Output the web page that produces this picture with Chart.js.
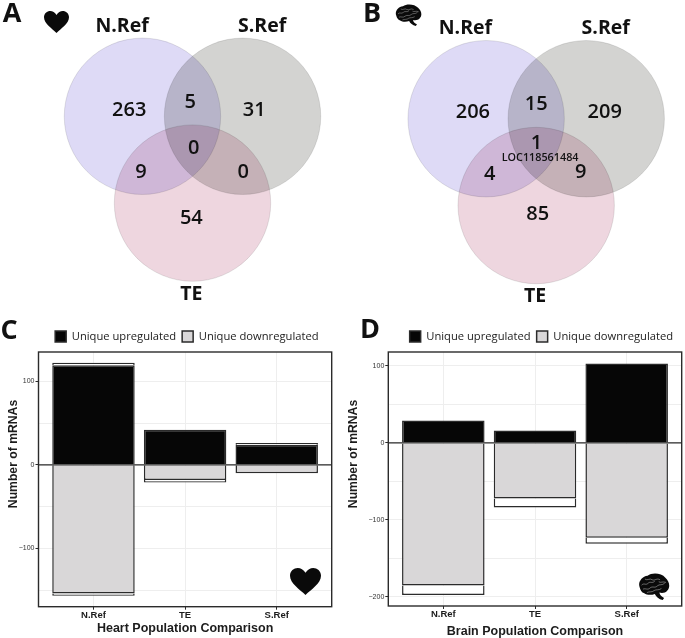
<!DOCTYPE html>
<html>
<head>
<meta charset="utf-8">
<script src="https://cdn.jsdelivr.net/npm/chart.js@4/dist/chart.umd.js"></script>
<style>
  html, body { margin: 0; padding: 0; background: #fff; }
  #page { position: relative; width: 685px; height: 638px; overflow: hidden; }
  canvas, svg.icon { position: absolute; }
</style>
</head>
<body>
<div id="page">
  <canvas id="vennHeart" width="345" height="310" style="left:0;top:0"></canvas>
  <canvas id="vennBrain" width="340" height="310" style="left:345px;top:0"></canvas>
  <canvas id="barHeart" width="345" height="322" style="left:0;top:316px"></canvas>
  <canvas id="barBrain" width="340" height="322" style="left:345px;top:316px"></canvas>

  <svg width="0" height="0" style="position:absolute">
    <symbol id="heart" viewBox="0 0 32 28" preserveAspectRatio="none">
      <path fill="#0a0a0a" d="M16 28C10 22 0 16 0 8C0 3 4 0 8 0C11 0 14 2 16 5C18 2 21 0 24 0C28 0 32 3 32 8C32 16 22 22 16 28Z"/>
    </symbol>
    <symbol id="brain" viewBox="0 0 100 80" preserveAspectRatio="none">
      <path fill="#0a0a0a" d="M8 42C2 28 14 10 32 8C46-2 74 0 86 14C98 24 102 42 92 52C86 60 74 60 68 58C68 64 74 70 82 74L78 80C66 78 58 70 54 62C44 66 30 66 22 60C14 58 10 50 8 42Z"/>
      <g fill="none" stroke="#d8d8d8" stroke-width="1.4">
        <path d="M14 36C22 28 26 38 34 30C40 24 46 32 54 24"/>
        <path d="M24 18C32 24 38 14 46 20C54 24 60 14 70 20"/>
        <path d="M18 48C26 44 32 52 40 44C48 38 54 46 62 38C68 32 76 38 84 30"/>
        <path d="M30 58C38 54 46 58 52 52C58 48 66 52 74 46"/>
        <path d="M66 26C72 30 78 24 88 28"/>
      </g>
    </symbol>
  </svg>
  <svg class="icon" style="left:44px;top:11px" width="25" height="22"><use href="#heart" width="25" height="22"/></svg>
  <svg class="icon" style="left:394px;top:4px" width="28" height="22"><use href="#brain" width="28" height="22"/></svg>
  <svg class="icon" style="left:290px;top:568px" width="31" height="27"><use href="#heart" width="31" height="27"/></svg>
  <svg class="icon" style="left:637px;top:573px" width="33" height="27"><use href="#brain" width="33" height="27"/></svg>
</div>

<script>
// Venn: circles with radius 1, TE is straight below the middle of the other two
const vennSets = ['N.Ref', 'S.Ref', 'TE'];
const vennX = [-0.64, 0.64, 0];
const vennY = [0, 0, -1.11];
const vennColors = ['#dedaf6', '#d3d3d1', '#eed6df'];
const vennRadius = 78.2;

const heartVennCounts = ['263', '31', '54', '5', '9', '0', '0'];
const heartVennCountX = [-0.81, 0.79, -0.015, -0.03, -0.66, 0.65, 0.015];
const heartVennCountY = [0.08, 0.08, -1.30, 0.18, -0.71, -0.71, -0.41];

const brainVennCounts = ['206', '209', '85', '15', '4', '9', '1'];
const brainVennCountX = [-0.81, 0.876, 0.02, 0, -0.595, 0.57, 0.005];
const brainVennCountY = [0.086, 0.086, -1.22, 0.19, -0.71, -0.69, -0.31];

// Bars
const categories = ['N.Ref', 'TE', 'S.Ref'];

const heartUp = [119, 42, 24];
const heartUpOpen = [3, 0, 2];
const heartDown = [-154, -18, -10];
const heartDownOpen = [-2.5, -3, 0];
const heartTicks = [-150, -100, -50, 0, 50, 100];

const brainUp = [29, 16, 103];
const brainUpOpen = [0, 0, 0];
const brainDown = [-185, -72, -123];
const brainDownOpen = [-12.5, -12, -8];
const brainTicks = [-200, -150, -100, -50, 0, 50, 100];

const ink = '#2b2b2b';

// Writes the numbers and set names of a Venn at scale positions
const vennText = {
    id: 'vennText',
    afterDatasetsDraw(chart, args, opts) {
        const { ctx, scales } = chart;
        const put = (text, x, y, font) => {
            ctx.font = font;
            ctx.fillText(text, scales.x.getPixelForValue(x), scales.y.getPixelForValue(y));
        };
        ctx.save();
        ctx.fillStyle = '#111';
        ctx.textAlign = 'center';
        ctx.textBaseline = 'middle';
        opts.counts.forEach((c, i) => put(c, opts.countX[i], opts.countY[i], '600 20px "Open Sans"'));
        opts.names.forEach(n => put(n.text, n.x, n.y, '700 19.5px "Open Sans"'));
        if (opts.note) put(opts.note.text, opts.note.x, opts.note.y, '600 10.8px "Open Sans"');
        ctx.restore();
    }
};

// Circles are multiplied so the overlaps get darker
const multiply = {
    id: 'multiply',
    beforeDatasetsDraw(chart) {
        chart.ctx.save();
        chart.ctx.globalCompositeOperation = 'multiply';
    },
    afterDatasetsDraw(chart) {
        chart.ctx.restore();
    }
};

// Letter of the panel
const panelLetter = {
    id: 'panelLetter',
    afterDraw(chart, args, opts) {
        const ctx = chart.ctx;
        ctx.save();
        ctx.fillStyle = '#111';
        ctx.font = '700 27px "Open Sans"';
        ctx.textAlign = 'center';
        ctx.textBaseline = 'middle';
        ctx.fillText(opts.text, opts.x, opts.y);
        ctx.restore();
    }
};

// Frame of the plot, zero line on top of the bars, y title (sits above the plot middle)
const plotFrame = {
    id: 'plotFrame',
    afterLayout(chart, args, opts) {
        chart.legend.left += opts.legendShift;
        chart.legend.right += opts.legendShift;
    },
    afterDatasetsDraw(chart, args, opts) {
        const { ctx, chartArea: a, scales } = chart;
        const zero = scales.y.getPixelForValue(0);
        ctx.save();
        ctx.strokeStyle = ink;
        ctx.lineWidth = 1.4;
        ctx.strokeRect(a.left, a.top, a.right - a.left, a.bottom - a.top);
        ctx.beginPath();
        ctx.moveTo(a.left, zero);
        ctx.lineTo(a.right, zero);
        ctx.stroke();
        ctx.translate(opts.yTitleX, opts.yTitleY);
        ctx.rotate(-Math.PI / 2);
        ctx.fillStyle = '#1c1c1c';
        ctx.font = '700 12.2px "Liberation Sans"';
        ctx.textAlign = 'center';
        ctx.textBaseline = 'middle';
        ctx.fillText('Number of mRNAs', 0, 0);
        ctx.restore();
    }
};

function drawVenn(id, xMin, xMax, yMin, yMax, text, letter) {
    new Chart(document.getElementById(id), {
        type: 'bubble',
        data: {
            datasets: [{
                data: vennSets.map((s, i) => ({ x: vennX[i], y: vennY[i], r: vennRadius })),
                backgroundColor: vennColors,
                borderColor: 'rgba(110,110,110,0.18)',
                borderWidth: 1
            }]
        },
        options: {
            responsive: false,
            animation: false,
            layout: { padding: 0, autoPadding: false },
            scales: {
                x: { type: 'linear', display: false, min: xMin, max: xMax },
                y: { type: 'linear', display: false, min: yMin, max: yMax }
            },
            plugins: {
                legend: { display: false },
                tooltip: { enabled: false },
                vennText: text,
                panelLetter: letter
            }
        },
        plugins: [multiply, vennText, panelLetter]
    });
}

function drawBars(id, setup) {
    const points = values => values.map((v, i) => ({ x: i, y: v }));
    const bar = (label, values, color) => ({
        label: label,
        data: points(values),
        backgroundColor: color,
        borderColor: ink,
        borderWidth: 1.5,
        barPercentage: 0.9,
        categoryPercentage: 1
    });
    new Chart(document.getElementById(id), {
        type: 'bar',
        data: {
            datasets: [
                bar('Unique upregulated', setup.up, '#060606'),
                bar('upper open', setup.upOpen, '#ffffff'),
                bar('Unique downregulated', setup.down, '#d9d7d8'),
                bar('lower open', setup.downOpen, '#ffffff')
            ]
        },
        options: {
            responsive: false,
            animation: false,
            layout: { padding: { top: 8.8, right: setup.padRight, left: 0, bottom: 0 } },
            scales: {
                x: {
                    type: 'linear',
                    stacked: true,
                    offset: false,
                    min: -0.6,
                    max: 2.6,
                    afterBuildTicks: s => { s.ticks = categories.map((c, i) => ({ value: i })); },
                    afterFit: s => { s.height = setup.xHeight; },
                    border: { display: false },
                    grid: { offset: false, color: '#eeeeee', tickColor: ink, tickLength: 3 },
                    ticks: {
                        autoSkip: false,
                        maxRotation: 0,
                        padding: 0,
                        color: '#1c1c1c',
                        font: { family: '"Liberation Sans"', size: 9.5, weight: '700' },
                        callback: v => categories[v]
                    },
                    title: {
                        display: true,
                        text: setup.xTitle,
                        color: '#1c1c1c',
                        padding: setup.xTitlePad,
                        font: { family: '"Liberation Sans"', size: 12.5, weight: '700' }
                    }
                },
                y: {
                    stacked: true,
                    min: setup.yMin,
                    max: setup.yMax,
                    afterBuildTicks: s => { s.ticks = setup.ticks.map(v => ({ value: v })); },
                    afterFit: s => { s.width = setup.yWidth; },
                    border: { display: false },
                    grid: {
                        color: '#eeeeee',
                        tickLength: 3,
                        tickColor: ctx => (ctx.tick.value % 100 === 0 ? ink : 'transparent')
                    },
                    ticks: {
                        autoSkip: false,
                        padding: 1,
                        color: '#333',
                        font: { family: '"Liberation Sans"', size: 7 },
                        callback: v => (v % 100 === 0 ? String(v).replace('-', '\u2212') : '')
                    }
                }
            },
            plugins: {
                tooltip: { enabled: false },
                legend: {
                    position: 'top',
                    labels: {
                        boxWidth: 11,
                        boxHeight: 11,
                        padding: 6,
                        color: '#222',
                        font: { family: '"Open Sans"', size: 11.2 },
                        filter: item => item.text.startsWith('Unique')
                    }
                },
                plotFrame: {
                    legendShift: setup.legendShift,
                    yTitleX: setup.yTitleX,
                    yTitleY: 138
                },
                panelLetter: setup.letter
            }
        },
        plugins: [plotFrame, panelLetter]
    });
}

drawVenn('vennHeart', -2.4616, 1.95, -2.477, 1.487, {
    counts: heartVennCounts,
    countX: heartVennCountX,
    countY: heartVennCountY,
    names: [
        { text: vennSets[0], x: -0.90, y: 1.15 },
        { text: vennSets[1], x: 0.89, y: 1.15 },
        { text: vennSets[2], x: -0.015, y: -2.28 }
    ]
}, { text: 'A', x: 12, y: 14 });

drawVenn('vennBrain', -2.445, 1.903, -2.446, 1.518, {
    counts: brainVennCounts,
    countX: brainVennCountX,
    countY: brainVennCountY,
    names: [
        { text: vennSets[0], x: -0.905, y: 1.156 },
        { text: vennSets[1], x: 0.889, y: 1.156 },
        { text: vennSets[2], x: -0.015, y: -2.267 }
    ],
    note: { text: 'LOC118561484', x: 0.05, y: -0.50 }
}, { text: 'B', x: 27, y: 14 });

drawBars('barHeart', {
    up: heartUp, upOpen: heartUpOpen, down: heartDown, downOpen: heartDownOpen,
    ticks: heartTicks, yMin: -169.7, yMax: 135,
    xTitle: 'Heart Population Comparison',
    yWidth: 38.5, xHeight: 31.3, padRight: 13.3,
    xTitlePad: { top: 0, bottom: 2 },
    yTitleX: 14,
    legendShift: 21,
    letter: { text: 'C', x: 9, y: 15 }
});

drawBars('barBrain', {
    up: brainUp, upOpen: brainUpOpen, down: brainDown, downOpen: brainDownOpen,
    ticks: brainTicks, yMin: -211.7, yMax: 118,
    xTitle: 'Brain Population Comparison',
    yWidth: 43.3, xHeight: 32, padRight: 3.3,
    xTitlePad: { top: 0, bottom: -1 },
    yTitleX: 9,
    legendShift: 28,
    letter: { text: 'D', x: 25, y: 14 }
});
</script>
</body>
</html>
